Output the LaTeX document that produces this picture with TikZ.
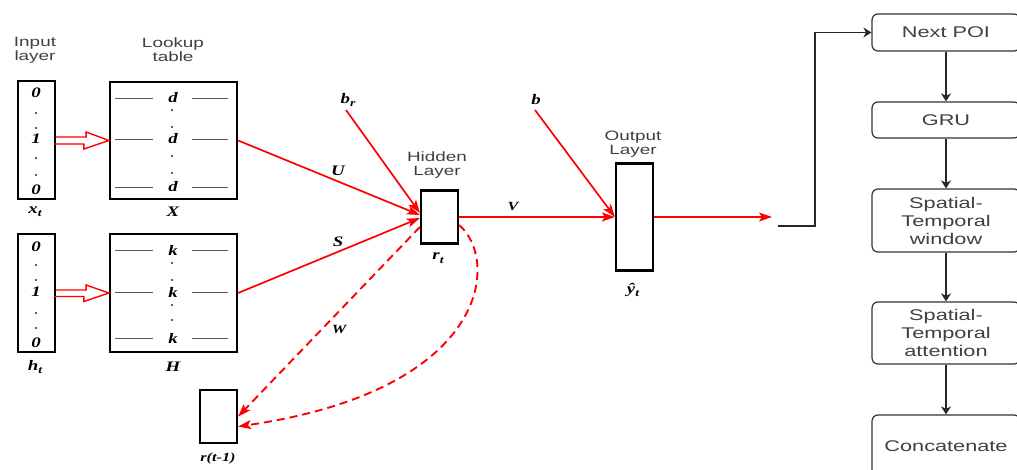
\documentclass[tikz,border=0pt]{standalone}
\usepackage{fontspec}
\setmainfont{Liberation Sans}
\newfontfamily\sfw{Liberation Sans}[FakeStretch=1.4]
\newfontfamily\mth{Liberation Serif}[FakeStretch=1.3]
\usetikzlibrary{arrows.meta}
\newcommand\mi[1]{{\mth\bfseries\itshape #1}}
\newcommand\msub[2]{\mi{#1}\raisebox{-0.45ex}{\fontsize{10.5}{10.5}\selectfont\mi{#2}}}
\begin{document}
\begin{tikzpicture}[x=1pt,y=-1pt,
  blk/.style={draw=black, line width=2.2pt, inner sep=0pt, minimum width=37pt},
  ttl/.style={font=\sfw\fontsize{13.5}{14}\selectfont, text=black!75, align=center, inner sep=0pt},
  mth/.style={font=\fontsize{14.5}{14.5}\selectfont, inner sep=0pt},
  dot/.style={circle, fill=black!85, inner sep=0pt, minimum size=2.4pt},
  tl/.style={draw=black!65, line width=0.8pt},
  rarr/.style={draw=red, color=red, line width=1.7pt, -{Stealth[length=13pt,width=9pt,inset=3pt]}},
  darr/.style={rarr, line width=1.9pt, dash pattern=on 8pt off 5pt},
  hol/.style={draw=red, line width=1.4pt, line join=miter},
  rb/.style={draw=black!80, line width=1.2pt, rounded corners=6pt, minimum width=148pt,
    font=\sfw\fontsize{15.5}{18}\selectfont, text=black!75, align=center, inner sep=0pt},
  barr/.style={draw=black!85, line width=1.3pt, -{Stealth[length=8pt,width=10pt,inset=2.5pt]}}
]
\useasboundingbox (0,0) rectangle (1017,470);

% titles
\node[ttl] (tin) at (35,50) {Input\\layer};
\node[ttl] (tlk) at (173,50) {Lookup\\table};
\node[ttl] (thl) at (437,165) {Hidden\\Layer};
\node[ttl] (tol) at (633,144) {Output\\Layer};

% boxes
\node[blk, minimum height=118pt] (xt) at (36.5,140) {};
\node[blk, minimum width=127pt, minimum height=117pt] (X) at (173.5,140.5) {};
\node[blk, minimum height=118pt] (ht) at (36.5,293) {};
\node[blk, minimum width=127pt, minimum height=118pt] (H) at (173.5,293) {};
\node[blk, minimum height=53pt] (rt1) at (218.5,416.5) {};
\node[blk, minimum height=53pt] (hid) at (439.5,217) {};
\node[blk, minimum height=107pt] (out) at (634.5,217) {};

% contents of x_t
\node[mth] (x0a) at (36,93) {\mi{0}};
\node[dot] (x1) at (36,113) {};
\node[dot] (x2) at (36,128) {};
\node[mth] (x3) at (36,139) {\mi{1}};
\node[dot] (x4) at (36,158) {};
\node[dot] (x5) at (36,175) {};
\node[mth] (x0b) at (36,190) {\mi{0}};
% contents of h_t
\node[mth] (h0a) at (36,247) {\mi{0}};
\node[dot] (h1) at (36,265) {};
\node[dot] (h2) at (36,280) {};
\node[mth] (h3) at (36,292) {\mi{1}};
\node[dot] (h4) at (36,313) {};
\node[dot] (h5) at (36,328) {};
\node[mth] (h0b) at (36,343) {\mi{0}};

% lookup X
\foreach \yy in {98,139,187}{
  \draw[tl] (115,\yy) -- (153,\yy);
  \draw[tl] (192,\yy) -- (228,\yy);
}
\node[mth] (d1) at (173,98) {\mi{d}};
\node[mth] (d2) at (173,139) {\mi{d}};
\node[mth] (d3) at (173,187) {\mi{d}};
\node[dot] (dd1) at (172,110) {};
\node[dot] (dd2) at (172,127) {};
\node[dot] (dd3) at (172,156) {};
\node[dot] (dd4) at (172,173) {};
% lookup H
\foreach \yy in {250,292,338}{
  \draw[tl] (115,\yy) -- (153,\yy);
  \draw[tl] (192,\yy) -- (228,\yy);
}
\node[mth] (k1) at (173,250) {\mi{k}};
\node[mth] (k2) at (173,292) {\mi{k}};
\node[mth] (k3) at (173,338) {\mi{k}};
\node[dot] (kk1) at (172,263) {};
\node[dot] (kk2) at (172,280) {};
\node[dot] (kk3) at (172,305) {};
\node[dot] (kk4) at (172,320) {};

% labels
\node[mth] (lxt) at (35,212) {\msub{x}{t}};
\node[mth] (lX) at (173,212) {\mi{X}};
\node[mth] (lht) at (35,367) {\msub{h}{t}};
\node[mth] (lH) at (173,367) {\mi{H}};
\node[mth] (lrt1) at (218,458) {\fontsize{12.5}{12.5}\selectfont\mi{r(t-1)}};
\node[mth] (lrt) at (438,258) {\msub{r}{t}};
\node[mth] (lyt) at (633,290) {\msub{ŷ}{t}};
\node[mth] (lU) at (338,171) {\mi{U}};
\node[mth] (lS) at (338,242) {\mi{S}};
\node[mth] (lW) at (339,330) {\fontsize{12.5}{12.5}\selectfont\mi{W}};
\node[mth] (lV) at (513,207) {\fontsize{12.5}{12.5}\selectfont\mi{V}};
\node[mth] (lbr) at (348,100) {\msub{b}{r}};
\node[mth] (lb) at (536,100) {\mi{b}};

% hollow arrows
\draw[hol] ([yshift=3pt]xt.east) -- ++(30,0) -- ++(0,-5) -- (X.west) -- ++(-25,8.5) -- ++(0,-5) -- ++(-30,0);
\draw[hol] ([yshift=3pt]ht.east) -- ++(30,0) -- ++(0,-5) -- (H.west) -- ++(-25,8.5) -- ++(0,-5) -- ++(-30,0);

% red connectors
\coordinate (sbr) at (346,110);
\coordinate (sb) at (535,110);
\coordinate (re) at (772,217);
\draw[rarr] (X.east) -- ([yshift=2pt]hid.west);
\draw[rarr] (H.east) -- ([yshift=-1pt]hid.west);
\draw[rarr] (sbr) -- ([yshift=4pt]hid.west);
\draw[rarr] (hid.east) -- (out.west);
\draw[rarr] (sb) -- (out.west);
\draw[rarr] (out.east) -- (re);
\draw[darr] ([yshift=-10pt]hid.west) -- (rt1.east);
\draw[darr] ([yshift=-8pt]hid.east) .. controls (500,260) and (490,390) .. ([yshift=-10pt]rt1.east);

% right column
\node[rb, minimum height=37pt] (next) at (946,32.5) {Next POI};
\node[rb, minimum height=36pt] (gru) at (946,120) {GRU};
\node[rb, minimum height=63pt] (win) at (946,220.5) {Spatial-\\Temporal\\window};
\node[rb, minimum height=62pt] (att) at (946,333) {Spatial-\\Temporal\\attention};
\node[rb, minimum height=62pt] (cat) at (946,446) {Concatenate};
\draw[barr] (next) -- (gru);
\draw[barr] (gru) -- (win);
\draw[barr] (win) -- (att);
\draw[barr] (att) -- (cat);
\coordinate (bs) at (778,226);
\draw[barr] (bs) -- ++(37,0) |- (next);
\end{tikzpicture}
\end{document}
